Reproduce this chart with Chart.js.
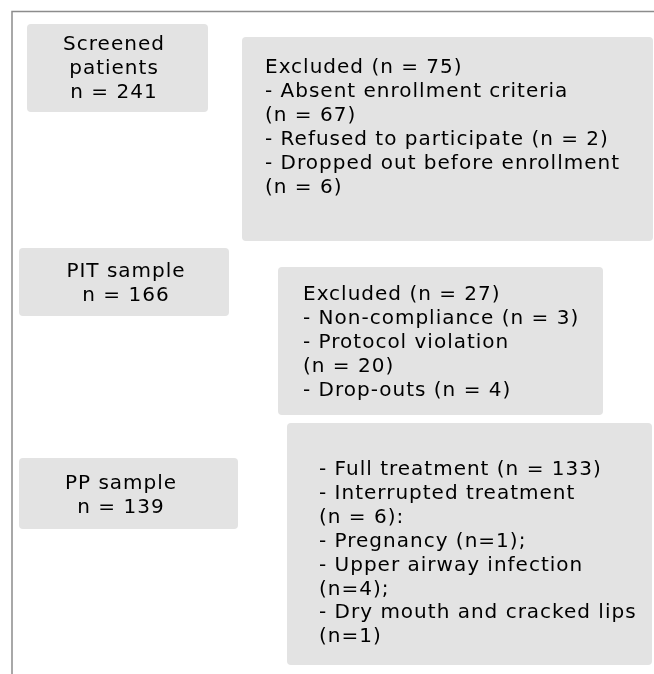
<!DOCTYPE html>
<html>
<head>
<meta charset="utf-8">
<script src="https://cdn.jsdelivr.net/npm/chart.js@4/dist/chart.umd.min.js"></script>
<style>
html,body{margin:0;padding:0;background:#fff;}
#wrap{position:relative;width:654px;height:674px;}
</style>
</head>
<body>
<div id="wrap"><canvas id="c"></canvas></div>
<script>
// ---- data ----
const stageNames = ['Screened patients', 'PIT sample', 'PP sample'];
const stageCounts = [241, 166, 139];

const exclusion1Reasons = ['Absent enrollment criteria', 'Refused to participate', 'Dropped out before enrollment'];
const exclusion1Counts = [67, 2, 6];
const exclusion1Total = 75;

const exclusion2Reasons = ['Non-compliance', 'Protocol violation', 'Drop-outs'];
const exclusion2Counts = [3, 20, 4];
const exclusion2Total = 27;

const ppOutcomes = ['Full treatment', 'Interrupted treatment'];
const ppOutcomeCounts = [133, 6];
const interruptReasons = ['Pregnancy', 'Upper airway infection', 'Dry mouth and cracked lips'];
const interruptCounts = [1, 4, 1];

// ---- text building ----
const box1Text = ['Screened', 'patients', 'n = ' + stageCounts[0]];
const box2Text = ['Excluded (n = ' + exclusion1Total + ')',
  '- ' + exclusion1Reasons[0], '(n = ' + exclusion1Counts[0] + ')',
  '- ' + exclusion1Reasons[1] + ' (n = ' + exclusion1Counts[1] + ')',
  '- ' + exclusion1Reasons[2], '(n = ' + exclusion1Counts[2] + ')'];
const box3Text = [stageNames[1], 'n = ' + stageCounts[1]];
const box4Text = ['Excluded (n = ' + exclusion2Total + ')',
  '- ' + exclusion2Reasons[0] + ' (n = ' + exclusion2Counts[0] + ')',
  '- ' + exclusion2Reasons[1], '(n = ' + exclusion2Counts[1] + ')',
  '- ' + exclusion2Reasons[2] + ' (n = ' + exclusion2Counts[2] + ')'];
const box5Text = [stageNames[2], 'n = ' + stageCounts[2]];
const box6Text = ['- ' + ppOutcomes[0] + ' (n = ' + ppOutcomeCounts[0] + ')',
  '- ' + ppOutcomes[1], '(n = ' + ppOutcomeCounts[1] + '):',
  '- ' + interruptReasons[0] + ' (n=' + interruptCounts[0] + ');',
  '- ' + interruptReasons[1], '(n=' + interruptCounts[1] + ');',
  '- ' + interruptReasons[2], '(n=' + interruptCounts[2] + ')'];

// ---- layout (positions only) ----
const boxes = [
  {x0:27, y0:24, x1:208, y1:112, lines:box1Text, align:'center', tx:114, ty:50},
  {x0:242, y0:37, x1:653, y1:241, lines:box2Text, align:'left', tx:265, ty:73},
  {x0:19, y0:248, x1:229, y1:316, lines:box3Text, align:'center', tx:126, ty:277},
  {x0:278, y0:267, x1:603, y1:415, lines:box4Text, align:'left', tx:303, ty:300},
  {x0:19, y0:458, x1:238, y1:529, lines:box5Text, align:'center', tx:121, ty:489},
  {x0:287, y0:423, x1:652, y1:665, lines:box6Text, align:'left', tx:319, ty:475}
];
const LINE_H = 23.9;

const flowPlugin = {
  id: 'flow',
  beforeDatasetsDraw(chart) {
    const {ctx, scales:{x, y}} = chart;
    ctx.save();
    // frame
    ctx.strokeStyle = '#8c8c8c';
    ctx.lineWidth = 1.5;
    ctx.beginPath();
    ctx.moveTo(x.getPixelForValue(654), y.getPixelForValue(11.5));
    ctx.lineTo(x.getPixelForValue(12), y.getPixelForValue(11.5));
    ctx.lineTo(x.getPixelForValue(12), y.getPixelForValue(674));
    ctx.stroke();
    boxes.forEach(b => {
      const px0 = x.getPixelForValue(b.x0), px1 = x.getPixelForValue(b.x1);
      const py0 = y.getPixelForValue(b.y0), py1 = y.getPixelForValue(b.y1);
      ctx.fillStyle = '#e3e3e3';
      ctx.beginPath();
      ctx.roundRect(px0, py0, px1 - px0, py1 - py0, 4);
      ctx.fill();
      ctx.fillStyle = '#000';
      ctx.font = '20px "DejaVu Sans", Verdana, sans-serif';
      ctx.letterSpacing = '1px';
      ctx.textAlign = b.align;
      ctx.textBaseline = 'alphabetic';
      b.lines.forEach((t, i) => {
        ctx.fillText(t, x.getPixelForValue(b.tx), y.getPixelForValue(b.ty + i * LINE_H));
      });
    });
    ctx.restore();
  }
};

new Chart(document.getElementById('c'), {
  type: 'scatter',
  data: { datasets: [{ data: [], pointRadius: 0 }] },
  options: {
    responsive: true,
    maintainAspectRatio: false,
    animation: false,
    layout: { padding: 0 },
    plugins: { legend: { display: false }, tooltip: { enabled: false } },
    scales: {
      x: { type: 'linear', min: 0, max: 654, display: false },
      y: { type: 'linear', min: 0, max: 674, reverse: true, display: false }
    }
  },
  plugins: [flowPlugin]
});
</script>
</body>
</html>
